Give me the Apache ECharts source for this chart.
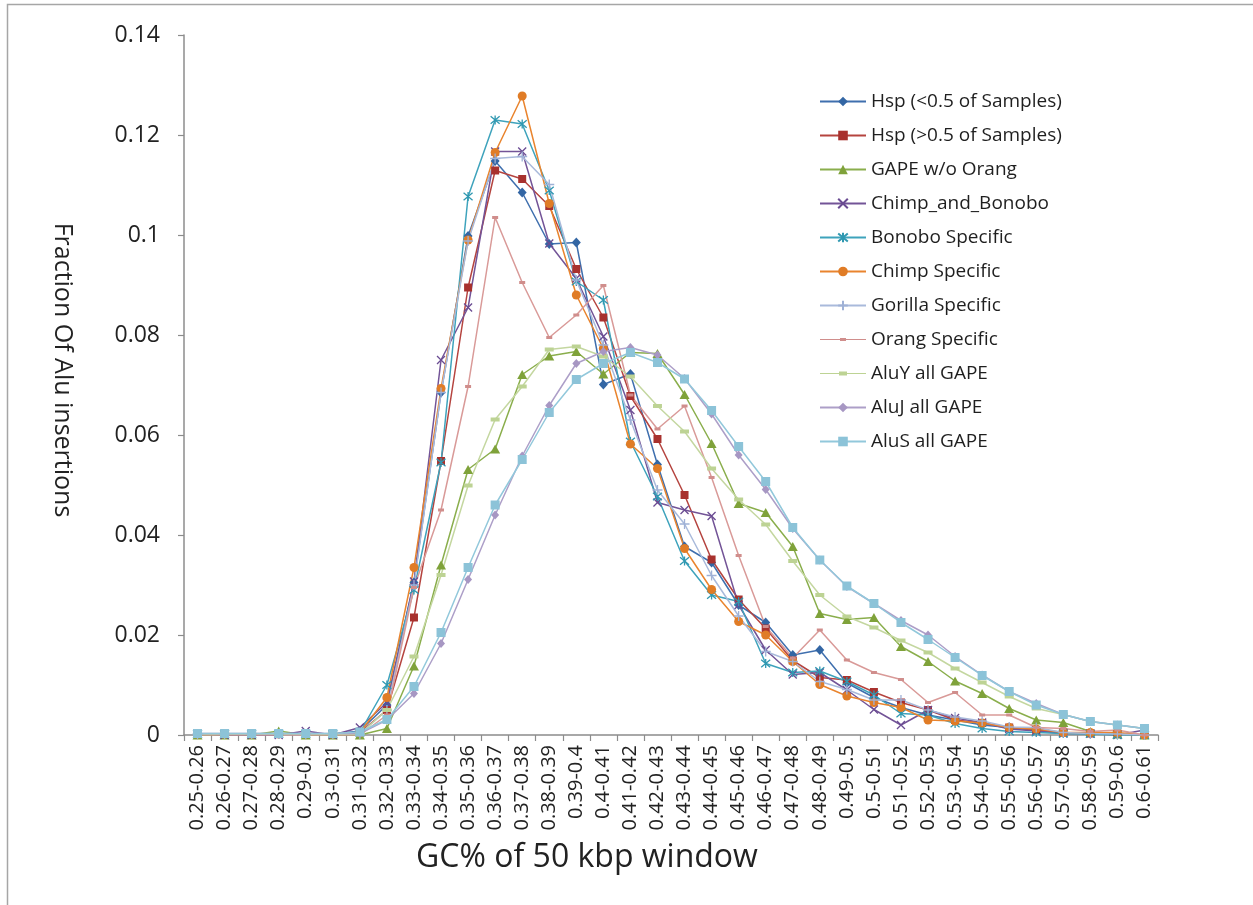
<!DOCTYPE html>
<html>
<head>
<meta charset="utf-8">
<script src="https://cdn.jsdelivr.net/npm/echarts@6/dist/echarts.min.js"></script>
<style>
html,body{margin:0;padding:0;background:#fff;}
#chart{width:1253px;height:905px;}
</style>
</head>
<body>
<div id="chart"></div>
<script>
const categories = ["0.25-0.26","0.26-0.27","0.27-0.28","0.28-0.29","0.29-0.3","0.3-0.31","0.31-0.32","0.32-0.33","0.33-0.34","0.34-0.35","0.35-0.36","0.36-0.37","0.37-0.38","0.38-0.39","0.39-0.4","0.4-0.41","0.41-0.42","0.42-0.43","0.43-0.44","0.44-0.45","0.45-0.46","0.46-0.47","0.47-0.48","0.48-0.49","0.49-0.5","0.5-0.51","0.51-0.52","0.52-0.53","0.53-0.54","0.54-0.55","0.55-0.56","0.56-0.57","0.57-0.58","0.58-0.59","0.59-0.6","0.6-0.61"];

const yTicks = [0, 0.02, 0.04, 0.06, 0.08, 0.1, 0.12, 0.14];

const hspLow = [0.0002,0.0002,0.0002,0.0002,0.0002,0.0002,0.0008,0.006,0.0305,0.0685,0.0998,0.1148,0.1085,0.0982,0.0985,0.0701,0.0722,0.0541,0.0377,0.0345,0.026,0.0225,0.016,0.017,0.0104,0.0075,0.0055,0.004,0.003,0.002,0.0015,0.001,0.0005,0.0003,0.0002,0];
const hspHigh = [0.0002,0.0002,0.0002,0.0002,0.0002,0.0002,0.0005,0.005,0.0235,0.0548,0.0895,0.1129,0.1112,0.1058,0.0932,0.0835,0.0678,0.0592,0.048,0.0351,0.0271,0.0213,0.0149,0.0115,0.011,0.0086,0.0065,0.005,0.003,0.0024,0.0015,0.001,0.0005,0.0003,0.0002,0];
const gapeNoOrang = [0,0,0,0.0008,0,0,0,0.0013,0.0138,0.034,0.0531,0.0572,0.0721,0.0758,0.0767,0.0722,0.0765,0.0763,0.0681,0.0583,0.0463,0.0445,0.0377,0.0243,0.0231,0.0235,0.0177,0.0147,0.0108,0.0083,0.0053,0.003,0.0025,0.0007,0.0002,0];
const chimpBonobo = [0.0003,0,0,0,0.0008,0,0.0015,0.0065,0.0307,0.075,0.0855,0.1167,0.1167,0.0983,0.0913,0.0797,0.065,0.0465,0.045,0.0438,0.026,0.017,0.0121,0.0125,0.009,0.0051,0.002,0.005,0.0034,0.0025,0.0012,0.0008,0.0003,0.0003,0,0.001];
const bonoboSpecific = [0.0002,0.0002,0.0002,0.0002,0.0002,0.0002,0.0005,0.01,0.029,0.0545,0.1077,0.123,0.1222,0.1089,0.0907,0.087,0.0587,0.0477,0.0348,0.028,0.0267,0.0143,0.0125,0.0128,0.0107,0.008,0.0043,0.004,0.0023,0.0013,0.0007,0.0005,0.0003,0.0002,0,0];
const chimpSpecific = [0.0002,0.0002,0.0002,0.0002,0.0002,0.0002,0.0005,0.0075,0.0335,0.0693,0.099,0.1165,0.1278,0.1063,0.088,0.0773,0.0582,0.0533,0.0373,0.0291,0.0227,0.02,0.0147,0.0101,0.0078,0.0065,0.0055,0.003,0.0028,0.0024,0.0015,0.0012,0.0005,0.0005,0.0005,0];
const gorillaSpecific = [0.0002,0.0002,0.0002,0.0002,0.0002,0.0002,0.0002,0.005,0.03,0.0685,0.0988,0.1153,0.1157,0.1101,0.091,0.078,0.063,0.049,0.0422,0.0319,0.0238,0.0167,0.0147,0.0107,0.0091,0.007,0.007,0.005,0.0036,0.0028,0.0016,0.0015,0.0005,0.0003,0.0002,0];
const orangSpecific = [0,0,0,0,0,0,0,0.004,0.0295,0.045,0.0697,0.1035,0.0905,0.0795,0.084,0.0899,0.068,0.0612,0.0658,0.0515,0.0359,0.0217,0.0154,0.021,0.015,0.0125,0.0111,0.0065,0.0085,0.004,0.004,0.0015,0.0013,0.0007,0.001,0];
const aluY = [0.0002,0.0002,0.0002,0.0002,0.0002,0.0002,0.0002,0.005,0.0157,0.032,0.0499,0.0631,0.0697,0.0771,0.0777,0.0757,0.0717,0.0658,0.0607,0.0533,0.0471,0.0421,0.0348,0.028,0.0237,0.0215,0.0189,0.0165,0.0133,0.0105,0.0077,0.0053,0.0041,0.0027,0.002,0.0013];
const aluJ = [0.0003,0.0003,0.0003,0.0003,0.0003,0.0003,0.0003,0.003,0.0083,0.0183,0.0311,0.044,0.0558,0.0659,0.0743,0.0767,0.0775,0.076,0.0713,0.0642,0.056,0.0491,0.0413,0.035,0.0297,0.0263,0.0229,0.02,0.0157,0.012,0.0087,0.0063,0.0041,0.0027,0.002,0.0013];
const aluS = [0.0003,0.0003,0.0003,0.0003,0.0003,0.0003,0.0006,0.0031,0.0097,0.0205,0.0335,0.046,0.0551,0.0645,0.0711,0.0743,0.0765,0.0745,0.0712,0.0649,0.0577,0.0507,0.0415,0.035,0.0298,0.0263,0.0225,0.0191,0.0155,0.0119,0.0087,0.006,0.0041,0.0027,0.002,0.0013];

const seriesNames = ["Hsp (<0.5 of Samples)","Hsp (>0.5 of Samples)","GAPE w/o Orang","Chimp_and_Bonobo","Bonobo Specific","Chimp Specific","Gorilla Specific","Orang Specific","AluY all GAPE","AluJ all GAPE","AluS all GAPE"];
const seriesData = [hspLow,hspHigh,gapeNoOrang,chimpBonobo,bonoboSpecific,chimpSpecific,gorillaSpecific,orangSpecific,aluY,aluJ,aluS];

const styles = [
  {line:'#3F6FAE', mark:'#3366A4', symbol:'diamond', size:[9,10]},
  {line:'#B5443F', mark:'#A8312E', symbol:'rect', size:8},
  {line:'#8AAE4C', mark:'#7FA23A', symbol:'triangle', size:[10,9]},
  {line:'#735497', mark:'#6A4B92', symbol:'path://M0,0L10,10M10,0L0,10', size:8, stroke:true},
  {line:'#3EA3BC', mark:'#2F98B1', symbol:'path://M0,0L10,10M10,0L0,10M5,-1L5,11', size:9, stroke:true},
  {line:'#E9842E', mark:'#E07C26', symbol:'circle', size:9},
  {line:'#A9BADB', mark:'#9FB1D6', symbol:'path://M5,0L5,10M0,5L10,5', size:10, stroke:true},
  {line:'#D99A98', mark:'#D08E8C', symbol:'rect', size:[6,3], legendIcon:'path://M0,5.4L46,5.4L46,6.6L0,6.6Z M20,4.5L26,4.5L26,7.5L20,7.5Z'},
  {line:'#C4D7A0', mark:'#BDD394', symbol:'rect', size:[9,4], legendIcon:'path://M0,5.4L46,5.4L46,6.6L0,6.6Z M19,4L27,4L27,8L19,8Z'},
  {line:'#AD9FC8', mark:'#A797C3', symbol:'diamond', size:[8,9]},
  {line:'#92C8DB', mark:'#8CC3D8', symbol:'rect', size:9}
];

const FONT = "'Open Sans', 'Liberation Sans', sans-serif";

const series = seriesNames.map((name, k) => {
  const st = styles[k];
  return {
    name: name,
    type: 'line',
    data: seriesData[k],
    symbol: st.symbol,
    symbolSize: st.size,
    showSymbol: true,
    showAllSymbol: true,
    lineStyle: {color: st.line, width: 1.5},
    itemStyle: st.stroke ? {color: st.mark, borderColor: st.mark, borderWidth: 1.3} : {color: st.mark, borderWidth: 0},
    emphasis: {disabled: true}
  };
});

const legendData = seriesNames.map((name, k) => styles[k].legendIcon ? {name: name, icon: styles[k].legendIcon} : {name: name});

const chart = echarts.init(document.getElementById('chart'), null, {renderer: 'canvas'});
chart.setOption({
  animation: false,
  backgroundColor: '#ffffff',
  textStyle: {fontFamily: FONT},
  grid: {left: 184, right: 95, top: 35, bottom: 170, containLabel: false},
  legend: {
    orient: 'vertical',
    left: 814,
    top: 87,
    itemWidth: 46,
    itemHeight: 12,
    itemGap: 15,
    textStyle: {fontFamily: FONT, fontSize: 19, color: '#1f1f1f'},
    data: legendData
  },
  xAxis: {
    type: 'category',
    data: categories,
    boundaryGap: true,
    axisLine: {lineStyle: {color: '#8c8c8c', width: 1.5}},
    axisTick: {show: true, length: 6, lineStyle: {color: '#8c8c8c', width: 1.2}},
    axisLabel: {rotate: 90, fontSize: 20, color: '#222', margin: 10, interval: 0, fontFamily: FONT},
    splitLine: {show: false}
  },
  yAxis: {
    type: 'value',
    min: yTicks[0],
    max: yTicks[yTicks.length - 1],
    interval: 0.02,
    axisLine: {show: true, lineStyle: {color: '#8c8c8c', width: 1.5}},
    axisTick: {show: true, length: 6, lineStyle: {color: '#8c8c8c', width: 1.2}},
    axisLabel: {fontSize: 23, color: '#222', margin: 24, fontFamily: FONT},
    splitLine: {show: false}
  },
  graphic: [
    {type: 'rect', silent: true, shape: {x: 7.5, y: 4.5, width: 1400, height: 1000}, style: {fill: 'none', stroke: '#a6a6a6', lineWidth: 1.5}},
    {type: 'text', silent: true, x: 587, y: 858, style: {text: 'GC% of 50 kbp window', fontFamily: FONT, fontSize: 32, fill: '#222', align: 'center', verticalAlign: 'middle'}},
    {type: 'text', silent: true, x: 62, y: 370, rotation: -Math.PI / 2, style: {text: 'Fraction Of Alu insertions', fontFamily: FONT, fontSize: 25, fill: '#222', align: 'center', verticalAlign: 'middle'}}
  ],
  series: series
});
</script>
</body>
</html>
